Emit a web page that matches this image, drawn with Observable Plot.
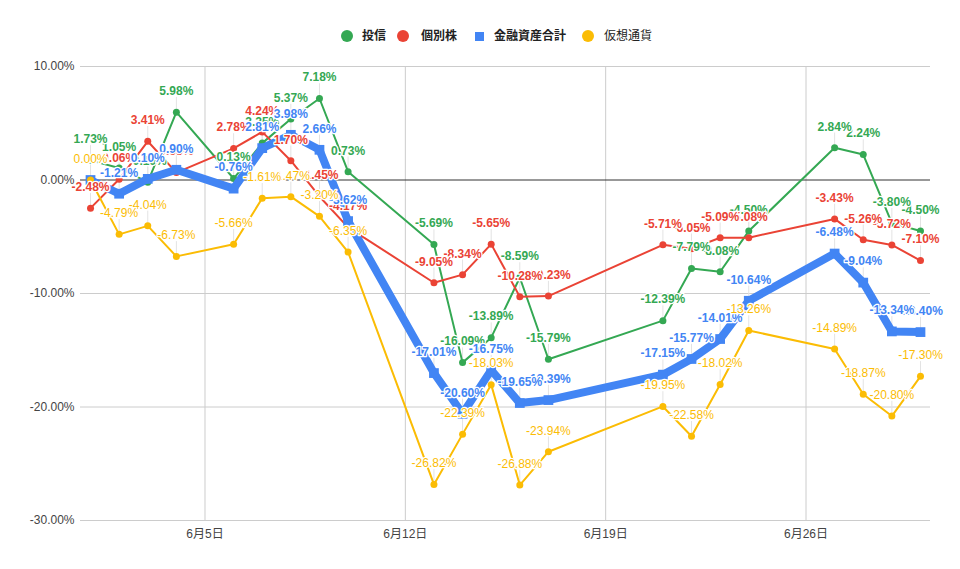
<!DOCTYPE html>
<html>
<head>
<meta charset="utf-8">
<script src="https://cdn.jsdelivr.net/npm/d3@7"></script>
<script src="https://cdn.jsdelivr.net/npm/@observablehq/plot@0.6"></script>
<style>
  body { margin: 0; background: #fff; font-family: Arial, "Liberation Sans", "Noto Sans CJK JP", sans-serif; }
  #legend { position: relative; height: 50px; font-size: 12px; color: #222; }
  .mk { position: absolute; }
  .circle { width: 12px; height: 12px; border-radius: 50%; top: 30px; }
  .square { width: 9px; height: 9px; top: 31.5px; }
  .tx { position: absolute; top: 28px; line-height: 16px; white-space: nowrap; }
  .b { font-weight: bold; }
</style>
</head>
<body>
<div id="legend"></div>
<div id="chart"></div>
<script>
// ---- data ----
const dates = ["2022-06-01","2022-06-02","2022-06-03","2022-06-04","2022-06-06","2022-06-07","2022-06-08","2022-06-09","2022-06-10","2022-06-13","2022-06-14","2022-06-15","2022-06-16","2022-06-17","2022-06-21","2022-06-22","2022-06-23","2022-06-24","2022-06-27","2022-06-28","2022-06-29","2022-06-30"];
const seriesNames = ["投信", "個別株", "金融資産合計", "仮想通貨"];
const seriesColors = ["#34a853", "#ea4335", "#4285f4", "#fbbc04"];
const toushin = [1.73, 1.05, -0.19, 5.98, 0.13, 3.25, 5.37, 7.18, 0.73, -5.69, -16.09, -13.89, -8.59, -15.79, -12.39, -7.79, -8.08, -4.50, 2.84, 2.24, -3.80, -4.50];
const kobetsu = [-2.48, 0.06, 3.41, 0.65, 2.78, 4.24, 1.70, -1.45, -4.17, -9.05, -8.34, -5.65, -10.28, -10.23, -5.71, -6.05, -5.09, -5.08, -3.43, -5.26, -5.72, -7.10];
const kinyu = [0.00, -1.21, 0.10, 0.90, -0.76, 2.81, 3.98, 2.66, -3.62, -17.01, -20.60, -16.75, -19.65, -19.39, -17.15, -15.77, -14.01, -10.64, -6.48, -9.04, -13.34, -13.40];
const kasou = [0.00, -4.79, -4.04, -6.73, -5.66, -1.61, -1.47, -3.20, -6.35, -26.82, -22.39, -18.03, -26.88, -23.94, -19.95, -22.58, -18.02, -13.26, -14.89, -18.87, -20.80, -17.30];
const xTicks = ["2022-06-05", "2022-06-12", "2022-06-19", "2022-06-26"];
const yTicks = [-30, -20, -10, 0, 10];

// ---- build ----
const allValues = [toushin, kobetsu, kinyu, kasou];
const parse = s => new Date(s + "T00:00:00Z");
const table = (vals, i) => vals.map((v, j) => ({date: parse(dates[j]), v, s: seriesNames[i]}));
const sets = allValues.map(table);

// legend (marker centre x and text start x)
const legendMarkerX = [347, 403, 479, 588];
const legendTextX = [362, 421, 494, 604];
const legend = document.getElementById("legend");
seriesNames.forEach((n, i) => {
  const mk = document.createElement("div");
  const sq = i === 2;
  mk.className = "mk " + (sq ? "square" : "circle");
  mk.style.left = (legendMarkerX[i] - (sq ? 4.5 : 6)) + "px";
  mk.style.background = seriesColors[i];
  const tx = document.createElement("span");
  tx.textContent = n;
  tx.className = "tx" + (i < 3 ? " b" : "");
  tx.style.left = legendTextX[i] + "px";
  legend.appendChild(mk); legend.appendChild(tx);
});

const dayMs = 86400000;
const x0 = new Date(parse(dates[0]).getTime() - 0.35 * dayMs);
const x1 = new Date(parse(dates[dates.length - 1]).getTime() + 0.35 * dayMs);
const fmtDate = d => `${d.getUTCMonth() + 1}月${d.getUTCDate()}日`;
const fmtPct = v => v.toFixed(2) + "%";

const marks = [
  Plot.ruleY(yTicks.filter(t => t !== 0), {stroke: "#cccccc", strokeWidth: 1}),
  Plot.ruleX(xTicks.map(parse), {stroke: "#cccccc", strokeWidth: 1}),
  Plot.ruleY([0], {stroke: "#333333", strokeWidth: 1}),
  Plot.axisY({ticks: yTicks, tickSize: 0, tickPadding: 6, tickFormat: d => d.toFixed(2) + "%", fill: "#444", fontSize: 12, label: null}),
  Plot.axisX({ticks: xTicks.map(parse), tickSize: 0, tickPadding: 9, tickFormat: fmtDate, fill: "#444", fontSize: 12, label: null})
];
// annotation stems
sets.forEach((data) => {
  marks.push(Plot.ruleX(data, {x: "date", y1: d => d.v + 0.25, y2: d => d.v + 1.3, stroke: "#e3e3e3", strokeWidth: 1}));
});
// lines and points
sets.forEach((data, i) => {
  const c = seriesColors[i];
  if (i === 2) {
    marks.push(Plot.line(data, {x: "date", y: "v", stroke: c, strokeWidth: 8, strokeLinejoin: "miter"}));
    marks.push(Plot.dot(data, {x: "date", y: "v", symbol: "square", r: 5.5, fill: c}));
  } else {
    marks.push(Plot.line(data, {x: "date", y: "v", stroke: c, strokeWidth: 2}));
    marks.push(Plot.dot(data, {x: "date", y: "v", r: 3.5, fill: c}));
  }
});
// labels (earlier points drawn on top within a series)
sets.forEach((data, i) => {
  marks.push(Plot.text(data.slice().reverse(), {
    x: "date", y: "v", text: d => fmtPct(d.v), dy: -21,
    fill: seriesColors[i], stroke: "white", strokeWidth: 2.5,
    fontSize: 12, fontWeight: i < 3 ? "bold" : "normal"
  }));
});

const chart = Plot.plot({
  width: 960,
  height: 519,
  marginTop: 16,
  marginBottom: 49,
  marginLeft: 80,
  marginRight: 30,
  style: {fontFamily: 'Arial, "Liberation Sans", "Noto Sans CJK JP", sans-serif', fontSize: "12px", background: "white"},
  x: {type: "utc", domain: [x0, x1], label: null},
  y: {domain: [-30, 10], label: null},
  marks
});
document.getElementById("chart").appendChild(chart);
</script>
</body>
</html>
